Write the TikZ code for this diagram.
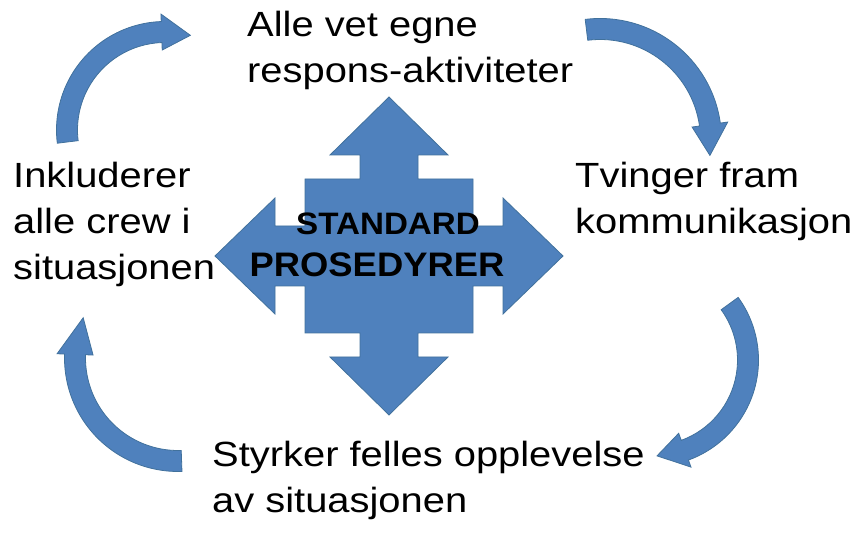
\documentclass[tikz,border=0pt]{standalone}
\usepackage{fontspec}
\setmainfont{Liberation Sans}[FakeStretch=1.14]
\newfontfamily\centrefont{Liberation Sans}[FakeStretch=1.07]
\definecolor{arrowblue}{HTML}{4F81BD}
\definecolor{arrowedge}{HTML}{41719C}
\tikzset{
	blueshape/.style={fill=arrowblue, draw=arrowedge, line width=0.8pt},
	sidetext/.style={anchor=base west, align=left, inner sep=0pt, font=\fontsize{35}{46}\selectfont},
	centretext/.style={anchor=base, inner sep=0pt, font=\centrefont\bfseries}
}
\newcommand{\roundarrow}[6]{%
	\pgfmathsetmacro{\rout}{#3+10.5}%
	\pgfmathsetmacro{\rin}{#3-10.5}%
	\pgfmathsetmacro{\rhout}{#3+18}%
	\pgfmathsetmacro{\rhin}{#3-18}%
	\filldraw[blueshape, shift={(#1,#2)}] (#4:\rout) arc[start angle=#4, end angle=#5, radius=\rout] -- (#5:\rhout) -- (#6:#3) -- (#5:\rhin) -- (#5:\rin) arc[start angle=#5, end angle=#4, radius=\rin] -- cycle;
}
\begin{document}
\begin{tikzpicture}[x=1pt,y=1pt]
	\useasboundingbox (0,0) rectangle (856,534);
	\filldraw[blueshape, shift={(389,278)}] (0,159) -- (59,101) -- (29,101) -- (29,77) -- (84,77) -- (84,30) -- (114,30) -- (114,58) -- (174,0) -- (114,-58) -- (114,-30) -- (84,-30) -- (84,-77) -- (29,-77) -- (29,-101) -- (59,-101) -- (0,-159) -- (-59,-101) -- (-29,-101) -- (-29,-77) -- (-84,-77) -- (-84,-30) -- (-114,-30) -- (-114,-58) -- (-174,0) -- (-114,58) -- (-114,30) -- (-84,30) -- (-84,77) -- (-29,77) -- (-29,101) -- (-59,101) -- cycle;
	\roundarrow{165}{404}{98}{187}{92}{75}
	\roundarrow{600}{394}{111}{97}{8}{-8}
	\roundarrow{652}{174}{96}{36}{-70}{-87}
	\roundarrow{178}{176}{103}{-88}{-182}{-203}
	\node[centretext] (standard) at (388,299) {\fontsize{31}{31}\selectfont STANDARD};
	\node[centretext] (prosedyrer) at (377,257) {\fontsize{34}{34}\selectfont PROSEDYRER};
	\node[sidetext] (alle) at (247,451) {Alle vet egne\\respons-aktiviteter};
	\node[sidetext] (tvinger) at (575,300) {Tvinger fram\\kommunikasjon};
	\node[sidetext] (inkluderer) at (13,254) {Inkluderer\\alle crew i\\situasjonen};
	\node[sidetext] (styrker) at (212,21) {Styrker felles opplevelse\\av situasjonen};
\end{tikzpicture}
\end{document}
